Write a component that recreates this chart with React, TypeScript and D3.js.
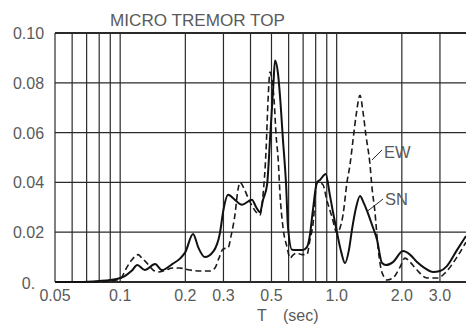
import React from "react";
import * as d3 from "d3";

const W = 466;
const H = 326;

// Period axis (log scale) and amplitude axis
const periodDomain = [0.05, 4.0];
const ampDomain = [0, 0.1];
const periodGrid = [0.05, 0.06, 0.07, 0.08, 0.09, 0.1, 0.2, 0.3, 0.4, 0.5, 0.6, 0.7, 0.8, 0.9, 1.0, 2.0, 3.0, 4.0];
const periodTicks = [0.05, 0.1, 0.2, 0.3, 0.5, 1.0, 2.0, 3.0];
const periodTickLabels = ["0.05", "0.1", "0.2", "0.3", "0.5", "1.0", "2.0", "3.0"];
const ampTicks = [0, 0.02, 0.04, 0.06, 0.08, 0.1];
const ampTickLabels = ["0.", "0.02", "0.04", "0.06", "0.08", "0.10"];

// Spectra: [period (sec), amplitude]
const snSpectrum: [number, number][] = [
  [0.05, 0], [0.065, 0], [0.08, 0.0004], [0.09, 0.0008], [0.1, 0.0016], [0.105, 0.0024],
  [0.113, 0.0045], [0.12, 0.0068], [0.13, 0.0048], [0.145, 0.0072], [0.156, 0.0048],
  [0.174, 0.0072], [0.19, 0.0096], [0.2, 0.012], [0.217, 0.0193], [0.23, 0.0137],
  [0.246, 0.01], [0.27, 0.0124], [0.289, 0.0197], [0.3, 0.029], [0.315, 0.035],
  [0.339, 0.033], [0.365, 0.031], [0.406, 0.033], [0.425, 0.03], [0.4425, 0.028],
  [0.457, 0.033], [0.477, 0.039], [0.492, 0.057], [0.51, 0.079], [0.519, 0.089],
  [0.537, 0.083], [0.547, 0.075], [0.565, 0.057], [0.584, 0.039], [0.596, 0.022],
  [0.622, 0.013], [0.656, 0.0129], [0.699, 0.0129], [0.729, 0.014], [0.753, 0.019],
  [0.777, 0.029], [0.811, 0.04], [0.838, 0.041], [0.89, 0.0434], [0.93, 0.035],
  [0.962, 0.028], [1.003, 0.02], [1.05, 0.012], [1.093, 0.0076], [1.14, 0.013],
  [1.177, 0.021], [1.23, 0.03], [1.282, 0.0345], [1.33, 0.032], [1.39, 0.028],
  [1.456, 0.023], [1.536, 0.017], [1.62, 0.0076], [1.69, 0.0068], [1.82, 0.008],
  [2.025, 0.0124], [2.18, 0.011], [2.35, 0.008], [2.55, 0.0056], [2.79, 0.004],
  [3.0, 0.0044], [3.23, 0.0064], [3.6, 0.0129], [3.96, 0.0185],
];

const ewSpectrum: [number, number][] = [
  [0.05, 0], [0.08, 0], [0.09, 0.0004], [0.1, 0.0012], [0.1075, 0.006], [0.113, 0.0088],
  [0.121, 0.011], [0.126, 0.0096], [0.133, 0.0076], [0.142, 0.0048], [0.15, 0.004],
  [0.163, 0.0048], [0.174, 0.0056], [0.188, 0.0056], [0.21, 0.0048], [0.234, 0.0044],
  [0.26, 0.0044], [0.274, 0.0056], [0.286, 0.0096], [0.299, 0.0133], [0.315, 0.0137],
  [0.326, 0.0189], [0.339, 0.027], [0.35, 0.037], [0.358, 0.04], [0.372, 0.0378],
  [0.389, 0.034], [0.41, 0.03], [0.428, 0.0277], [0.4425, 0.0269], [0.457, 0.035],
  [0.472, 0.053], [0.482, 0.073], [0.492, 0.0843], [0.503, 0.081], [0.514, 0.073],
  [0.525, 0.059], [0.537, 0.049], [0.547, 0.0357], [0.565, 0.022], [0.59, 0.014],
  [0.609, 0.0096], [0.628, 0.0108], [0.656, 0.0116], [0.69, 0.011], [0.729, 0.011],
  [0.753, 0.0169], [0.777, 0.023], [0.811, 0.0398], [0.838, 0.0398], [0.865, 0.039],
  [0.9, 0.033], [0.952, 0.0261], [1.003, 0.0197], [1.036, 0.0217], [1.07, 0.027],
  [1.116, 0.04], [1.152, 0.047], [1.19, 0.057], [1.23, 0.067], [1.282, 0.075],
  [1.32, 0.069], [1.365, 0.059], [1.426, 0.047], [1.456, 0.038], [1.503, 0.028],
  [1.552, 0.014], [1.6, 0.0056], [1.655, 0.002], [1.708, 0.0008], [1.82, 0.0016],
  [1.962, 0.006], [2.069, 0.0096], [2.182, 0.008], [2.35, 0.0048], [2.614, 0.0016],
  [2.937, 0.0016], [3.165, 0.0036], [3.596, 0.01], [3.957, 0.016],
];

// Series labels with leader lines, in data space: text anchor, leader start, leader end
const ewLabel = { text: "EW", at: [1.654, 0.0498], from: [1.619, 0.053], to: [1.456, 0.049] };
const snLabel = { text: "SN", at: [1.67, 0.0309], from: [1.637, 0.0333], to: [1.39, 0.0285] };

const FONT = "'Liberation Sans', Arial, sans-serif";
const INK = "#2a2a2a";
const TEXT = "#5a5a5a";

export default function App() {
  const left = 55, top = 33, bottom = 282, right = 467;
  const x = d3.scaleLog().domain(periodDomain).range([left, right]);
  const y = d3.scaleLinear().domain(ampDomain).range([bottom, top]);

  const line = d3
    .line<[number, number]>()
    .x((d) => x(d[0]))
    .y((d) => y(d[1]))
    .curve(d3.curveMonotoneX);

  const labels = [ewLabel, snLabel];

  return (
    <svg
      width={W}
      height={H}
      viewBox={`0 0 ${W} ${H}`}
      style={{ position: "fixed", left: 0, top: 0, background: "#fff" }}
    >
      <rect x={0} y={0} width={W} height={H} fill="#fff" />

      {/* title */}
      <text
        x={110}
        y={26}
        fontFamily={FONT}
        fontSize={16.5}
        fill={TEXT}
        textLength={175}
        lengthAdjust="spacingAndGlyphs"
      >
        MICRO TREMOR TOP
      </text>

      {/* vertical grid */}
      {periodGrid.map((p) => (
        <line key={"vx" + p} x1={x(p)} x2={x(p)} y1={y(ampDomain[1])} y2={y(0)} stroke={INK} strokeWidth={1.2} />
      ))}
      {/* horizontal grid */}
      {ampTicks.map((a) => (
        <line
          key={"hy" + a}
          x1={x(periodDomain[0])}
          x2={x(periodDomain[1])}
          y1={y(a)}
          y2={y(a)}
          stroke={INK}
          strokeWidth={a === 0 || a === 0.1 ? 1.8 : 1.2}
        />
      ))}

      {/* y tick labels */}
      {ampTicks.map((a, i) => (
        <text
          key={"yl" + a}
          x={28.5}
          y={y(a) + (a === 0 ? 7 : 6)}
          textAnchor="middle"
          fontFamily={FONT}
          fontSize={16}
          fill={TEXT}
        >
          {ampTickLabels[i]}
        </text>
      ))}

      {/* x tick labels */}
      {periodTicks.map((p, i) => (
        <text
          key={"xl" + p}
          x={x(p)}
          y={301}
          textAnchor="middle"
          fontFamily={FONT}
          fontSize={16}
          fill={TEXT}
        >
          {periodTickLabels[i]}
        </text>
      ))}

      {/* axis title */}
      <text x={257} y={321} fontFamily={FONT} fontSize={16} fill={TEXT}>
        T
      </text>
      <text x={283} y={321} fontFamily={FONT} fontSize={16} fill={TEXT}>
        (sec)
      </text>

      {/* spectra */}
      <path d={line(ewSpectrum) ?? ""} fill="none" stroke="#1a1a1a" strokeWidth={1.6} strokeDasharray="6,3.5" />
      <path d={line(snSpectrum) ?? ""} fill="none" stroke="#111" strokeWidth={2} />

      {/* series labels */}
      {labels.map((l) => (
        <g key={l.text}>
          <line
            x1={x(l.from[0])}
            y1={y(l.from[1])}
            x2={x(l.to[0])}
            y2={y(l.to[1])}
            stroke={INK}
            strokeWidth={1}
          />
          <text x={x(l.at[0])} y={y(l.at[1])} fontFamily={FONT} fontSize={16.5} fill={TEXT}>
            {l.text}
          </text>
        </g>
      ))}
    </svg>
  );
}
